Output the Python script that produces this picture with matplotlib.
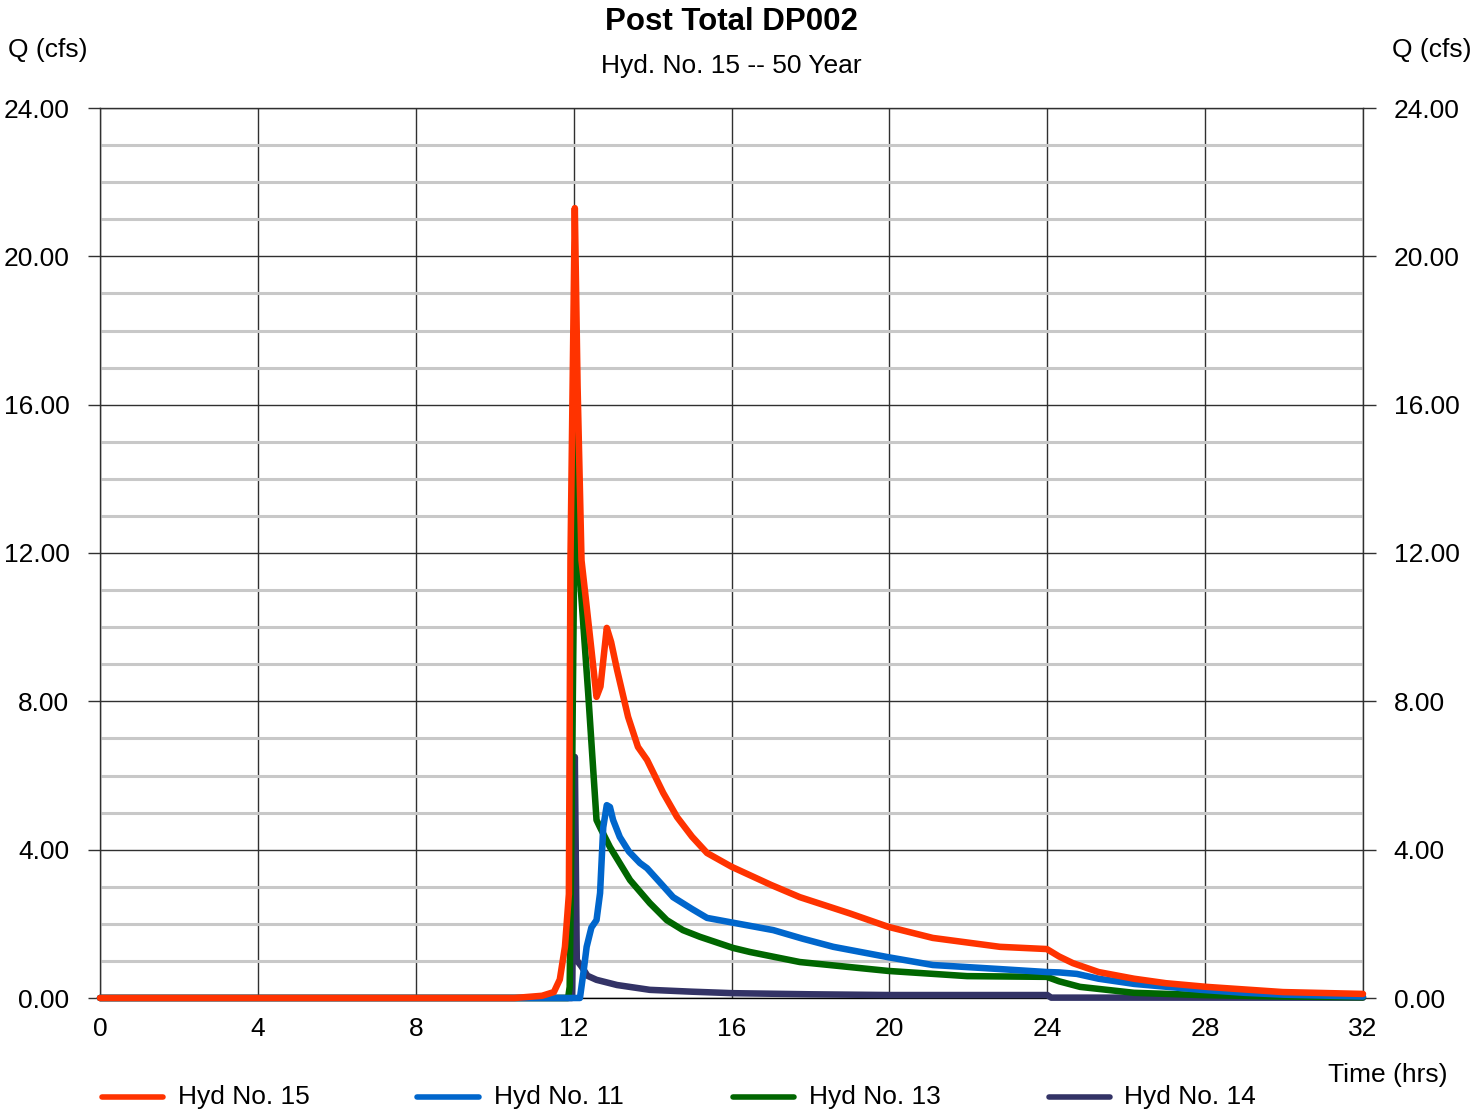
import matplotlib
matplotlib.use("Agg")
import matplotlib.pyplot as plt
from matplotlib.lines import Line2D
from matplotlib.ticker import MultipleLocator, FormatStrFormatter

plt.rcParams['font.family'] = ['Liberation Sans', 'DejaVu Sans']

# ---------------- data ----------------
labels = ["Hyd No. 15", "Hyd No. 11", "Hyd No. 13", "Hyd No. 14"]
colors = ["#FF3300", "#0066CC", "#006600", "#333366"]

t15 = [0, 10.5, 11.2, 11.5, 11.65, 11.78, 11.88, 11.92, 12.03, 12.1, 12.2, 12.3, 12.45, 12.58,
       12.68, 12.84, 12.95, 13.1, 13.38, 13.63, 13.86, 14.27, 14.62, 15.0, 15.38, 16.0, 17.0,
       17.73, 19.0, 19.97, 21.1, 22.8, 23.99, 24.3, 24.65, 25.3, 26.2, 27.0, 28.04, 29.97, 32]
q15 = [0, 0, 0.06, 0.16, 0.5, 1.38, 2.8, 11.8, 21.3, 16.5, 11.8, 10.85, 9.4, 8.12,
       8.4, 9.98, 9.6, 8.85, 7.58, 6.77, 6.42, 5.53, 4.88, 4.35, 3.91, 3.54, 3.05,
       2.72, 2.28, 1.92, 1.62, 1.38, 1.32, 1.12, 0.94, 0.70, 0.52, 0.40, 0.30, 0.16, 0.11]

t11 = [0, 12.16, 12.25, 12.33, 12.45, 12.58, 12.67, 12.75, 12.84, 12.92, 13.0, 13.17, 13.4,
       13.68, 13.86, 14.2, 14.52, 15.0, 15.38, 16.04, 17.06, 17.8, 18.58, 19.97, 21.1, 22.8,
       23.99, 24.3, 24.75, 25.3, 26.2, 27.9, 29.0, 30.0, 32]
q11 = [0, 0, 0.7, 1.38, 1.9, 2.1, 2.83, 4.6, 5.2, 5.15, 4.8, 4.34, 3.95,
       3.64, 3.5, 3.1, 2.72, 2.4, 2.16, 2.03, 1.83, 1.6, 1.38, 1.1, 0.89, 0.78,
       0.70, 0.69, 0.65, 0.52, 0.38, 0.22, 0.14, 0.09, 0.04]

t13 = [0, 11.86, 11.9, 11.95, 12.05, 12.13, 12.37, 12.58, 12.67, 12.92, 13.43, 13.93, 14.36,
       14.77, 15.2, 16.04, 16.47, 17.73, 19.97, 21.97, 23.99, 24.3, 24.83, 26.2, 27.9, 30, 32]
q13 = [0, 0, 0.3, 5.0, 15.5, 11.8, 8.2, 4.8, 4.6, 4.07, 3.18, 2.56, 2.1,
       1.83, 1.65, 1.35, 1.24, 0.97, 0.73, 0.59, 0.57, 0.45, 0.30, 0.14, 0.08, 0.04, 0.02]

t14 = [0, 11.96, 12.03, 12.08, 12.2, 12.35, 12.58, 13.1, 13.93, 15, 16.04, 18, 20, 24, 24.1, 32]
q14 = [0, 0, 6.5, 1.02, 0.85, 0.6, 0.49, 0.35, 0.22, 0.17, 0.13, 0.10, 0.08, 0.08, 0.01, 0.01]

series_t = [t15, t11, t13, t14]
series_q = [q15, q11, q13, q14]

x_ticks = [0, 4, 8, 12, 16, 20, 24, 28, 32]
title = "Post Total DP002"
subtitle = "Hyd. No. 15 -- 50 Year"

# ---------------- figure ----------------
W, H = 1473, 1114
fig = plt.figure(figsize=(W / 100, H / 100), dpi=100)
ax = fig.add_axes([100 / W, (H - 998) / H, (1363 - 100) / W, (998 - 108) / H])

FS = 19
# draw in reverse so Hyd 15 is on top
for tt, qq, c in reversed(list(zip(series_t, series_q, colors))):
    ax.plot(tt, qq, color=c, lw=4.7, solid_capstyle='round', solid_joinstyle='round',
            zorder=3, clip_on=False)

ax.set_xlim(0, 32)
ax.set_ylim(0, 24)
ax.set_xticks(x_ticks)
ax.yaxis.set_major_locator(MultipleLocator(4))
ax.yaxis.set_minor_locator(MultipleLocator(1))
ax.yaxis.set_major_formatter(FormatStrFormatter('%.2f'))

ax.grid(which='minor', axis='y', color='#c8c8c8', lw=2.2, zorder=0)
ax.grid(which='major', axis='both', color='#303030', lw=1.0, zorder=1)
ax.set_axisbelow(True)

for s in ax.spines.values():
    s.set_color('#303030')
    s.set_linewidth(1.0)
ax.spines['bottom'].set_color('black')

ax.tick_params(axis='y', which='major', length=9, width=1.0, color='#303030', pad=13,
               labelsize=FS, left=True, right=True, labelleft=True, labelright=True)
ax.tick_params(axis='y', which='minor', length=0)
ax.tick_params(axis='x', which='major', length=0, pad=14, labelsize=FS)

fig.text(731.5 / W, 1 - 22 / H, title, ha='center', va='center', fontsize=22.5, weight='bold')
fig.text(731.5 / W, 1 - 66 / H, subtitle, ha='center', va='center', fontsize=FS)
fig.text(8 / W, 1 - 50 / H, "Q (cfs)", ha='left', va='center', fontsize=FS)
fig.text(1472 / W, 1 - 50 / H, "Q (cfs)", ha='right', va='center', fontsize=FS)
fig.text(1447 / W, 1 - 1075 / H, "Time (hrs)", ha='right', va='center', fontsize=FS)

# legend (manual, evenly spaced)
leg_y = 1 - 1097 / H
for i, (lab, c) in enumerate(zip(labels, colors)):
    x0 = (100 + i * 315.5) / W
    fig.add_artist(Line2D([x0 + 2 / W, x0 + 63 / W], [leg_y, leg_y], transform=fig.transFigure,
                          color=c, lw=4.0, solid_capstyle='round'))
    fig.text(x0 + 78 / W, leg_y, lab, ha='left', va='center', fontsize=FS)

fig.savefig("out.png", dpi=100)
